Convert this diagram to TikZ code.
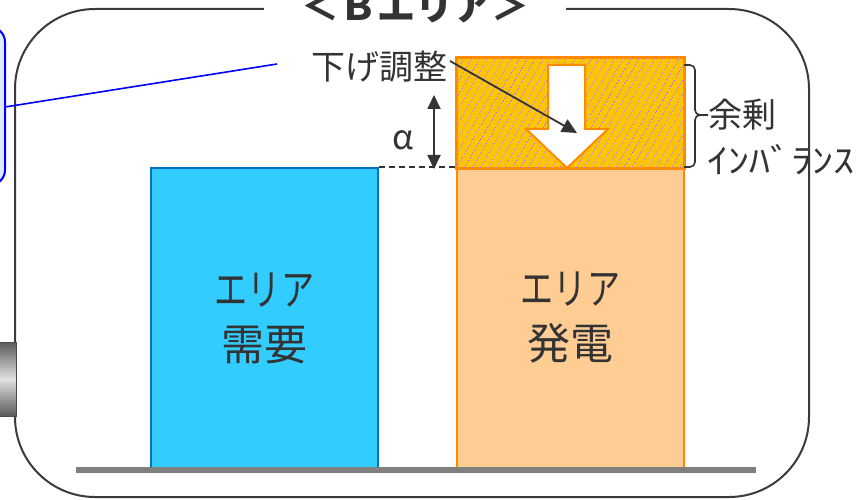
\documentclass[tikz,border=0pt]{standalone}
\usepackage{fontspec}
\newfontfamily\cjk{Noto Sans CJK JP}
\usetikzlibrary{patterns.meta,arrows.meta}
\definecolor{txt}{HTML}{333333}
\definecolor{frame}{HTML}{3A3A3A}
\definecolor{demfill}{HTML}{33CCFF}
\definecolor{demdraw}{HTML}{0070C0}
\definecolor{genfill}{HTML}{FFCC94}
\definecolor{gendraw}{HTML}{FF8A00}
\definecolor{gold}{HTML}{FFC400}
\definecolor{hatch}{HTML}{A066CC}
\definecolor{lbox}{HTML}{DDEBFF}
\newcommand{\kana}[1]{\scalebox{0.77}[1]{#1}}
\tikzset{
  bar/.style={line width=1.6pt, minimum width=227pt, inner sep=0pt, text=txt,
    font=\cjk\fontsize{43}{55}\selectfont, align=center},
  lbl/.style={text=txt, inner sep=0pt, font=\cjk\fontsize{34}{40}\selectfont},
  conn/.style={draw=txt, line width=1.8pt},
}
\begin{document}
\begin{tikzpicture}[x=1pt,y=-1pt]
\useasboundingbox (0,0) rectangle (863,500);
\clip (0,0) rectangle (863,500);

% main frame
\draw[frame, line width=2pt, rounded corners=80pt] (15,9) rectangle (809,497);
\node[fill=white, minimum width=302pt, minimum height=36pt, inner sep=0pt, text=txt,
  font=\cjk\bfseries\fontsize{38}{38}\selectfont] (title) at (415,7) {＜Ｂエリア＞};

% left partial box
\draw[blue, fill=lbox, line width=2pt, rounded corners=15pt] (-40,27) rectangle (5,185);
\node[inner sep=0pt] (lb) at (5,107) {};
\shade[top color=black!65, bottom color=black!65, middle color=black!12, draw=black!70, line width=1pt]
  (-5,342) rectangle (16,416);

% bars
\node[bar, draw=demdraw, fill=demfill, minimum height=300pt] (dem) at (264.5,318) {\kana{エリア}\\需要};
\node[bar, draw=gendraw, fill=genfill, minimum height=300pt] (gen) at (570.5,318) {\kana{エリア}\\発電};
\node[bar, draw=gendraw, fill=gold, minimum height=110pt, line width=2pt,
  postaction={pattern={Lines[angle=60,distance=6.5pt,line width=0.8pt]}, pattern color=hatch}] (imb) at (570.5,113) {};
\draw[gendraw, line width=2pt] (imb.south west) rectangle (imb.north east);

% white down arrow
\draw[gendraw, fill=white, line width=2pt, line join=miter]
  (548,65) -- (585,65) -- (585,129) -- (608,129) -- (567,168) -- (526,129) -- (548,129) -- cycle;

% ground
\draw[black!50, line width=6pt] (76,470) -- (756,470);

% labels
\node[lbl] (down) at (379,67) {下げ調整};
\node[lbl] (alpha) at (403,140) {α};
\node[lbl, anchor=west] (yojo) at (708,115) {余剰};
\node[lbl, anchor=west] (imbt) at (707,160) {\scalebox{1.24}[1]{ｲﾝﾊﾞﾗﾝｽ}};

% connectors
\draw[blue, line width=1.6pt] (lb.center) -- (277,64) coordinate (lbend);
\coordinate (dstart) at (450,61);
\coordinate (dend) at (577,133);
\draw[conn, -{Triangle[length=15pt,width=14pt]}] (dstart) -- (dend);
\coordinate (atop) at (434,95);
\coordinate (abot) at (434,169);
\draw[conn, {Triangle[length=14pt,width=13pt]}-{Triangle[length=14pt,width=13pt]}] (atop) -- (abot);
\draw[txt, line width=1.5pt, dash pattern=on 6pt off 4pt] (dem.north east) -- (gen.north west);

% brace
\draw[txt, line width=1.6pt] (684,65) -- (690,65) to[out=0,in=90] (695,70) -- (695,110)
  to[out=-90,in=180] (700,115) -- (yojo.west);
\draw[txt, line width=1.6pt] (700,115) to[out=180,in=90] (695,120) -- (695,162)
  to[out=-90,in=0] (690,167) -- (684,167);
\end{tikzpicture}
\end{document}
